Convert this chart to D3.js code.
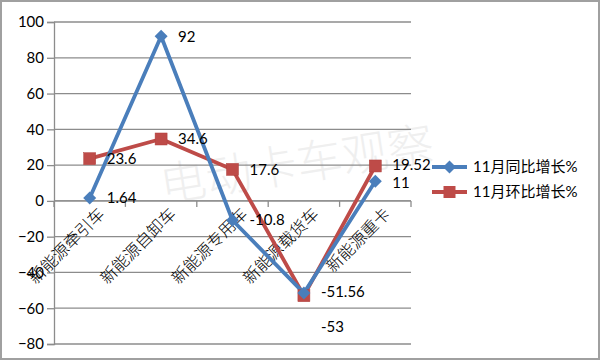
<!DOCTYPE html>
<html><head><meta charset="utf-8">
<script src="https://cdn.jsdelivr.net/npm/d3@7"></script>
<style>body{margin:0;background:#fff}svg{display:block}</style>
</head><body>
<svg id="c" width="600" height="360"></svg>
<script>
const categories = ["新能源牵引车","新能源自卸车","新能源专用车","新能源载货车","新能源重卡"];
const yoyValues = [1.64, 92, -10.8, -51.56, 11];
const momValues = [23.6, 34.6, 17.6, -53, 19.52];
const seriesNames = ["11月同比增长%","11月环比增长%"];
const yTicks = [100,80,60,40,20,0,-20,-40,-60,-80];
const watermark = "电动卡车观察";

const svg = d3.select("#c");
const W=600,H=360;
const numFont = "Lato, 'Noto Sans CJK SC', sans-serif";
const cjkFont = "'Noto Sans CJK SC', sans-serif";
const blue="#4a7ebb", red="#be4b48";

svg.append("rect").attr("x",1).attr("y",1).attr("width",W-2).attr("height",H-2)
  .attr("fill","#fff").attr("stroke","#a0a0a0").attr("stroke-width",2);

const x = d3.scaleBand().domain(categories).range([54,411]).padding(0);
const y = d3.scaleLinear().domain([-80,100]).range([344,22]);

// watermark
svg.append("text").text(watermark)
  .attr("transform","translate(163,202) rotate(-9)")
  .attr("font-family",cjkFont).attr("font-size",46).attr("font-weight",300)
  .attr("fill","#efefef");

// gridlines
svg.append("g").selectAll("line").data(yTicks).join("line")
  .attr("x1",54).attr("x2",411).attr("y1",d=>y(d)).attr("y2",d=>y(d))
  .attr("stroke","#8c8c8c").attr("stroke-width",1.3);

// y axis
const yAxis = d3.axisLeft(y).tickValues(yTicks).tickSize(7).tickPadding(3).tickFormat(d3.format("d"));
const gy = svg.append("g").attr("transform","translate(54,0)").call(yAxis);
gy.select(".domain").attr("stroke","#8c8c8c").attr("stroke-width",1.3);
gy.selectAll(".tick line").attr("stroke","#8c8c8c").attr("stroke-width",1.3);
gy.selectAll(".tick text").attr("font-family",numFont).attr("font-size",15).attr("fill","#000");

// x axis at zero
const xTickPos = d3.range(categories.length+1).map(i=>54+i*x.bandwidth());
svg.append("line").attr("x1",54).attr("x2",411).attr("y1",y(0)).attr("y2",y(0))
  .attr("stroke","#8c8c8c").attr("stroke-width",1.3);
svg.append("g").selectAll("line").data(xTickPos).join("line")
  .attr("x1",d=>d).attr("x2",d=>d).attr("y1",y(0)).attr("y2",y(0)+6)
  .attr("stroke","#8c8c8c").attr("stroke-width",1.3);

// category labels
svg.append("g").selectAll("text").data(categories).join("text")
  .text(d=>d)
  .attr("transform",d=>`translate(${x(d)+x.bandwidth()/2+12},${y(0)+10}) rotate(-45)`)
  .attr("text-anchor","end").attr("dy","0.35em")
  .attr("font-family",cjkFont).attr("font-size",16.5).attr("font-weight",300).attr("fill","#000");

const cx = (d,i)=>x(categories[i])+x.bandwidth()/2;
const line = d3.line().x((d,i)=>cx(d,i)).y(d=>y(d));

// red series
svg.append("path").datum(momValues).attr("d",line).attr("fill","none")
  .attr("stroke",red).attr("stroke-width",3.8).attr("stroke-linejoin","round");
// blue series
svg.append("path").datum(yoyValues).attr("d",line).attr("fill","none")
  .attr("stroke",blue).attr("stroke-width",3.8).attr("stroke-linejoin","round");

const sq=12, dm=6.5;
svg.append("g").selectAll("rect").data(momValues).join("rect")
  .attr("x",(d,i)=>cx(d,i)-sq/2).attr("y",d=>y(d)-sq/2).attr("width",sq).attr("height",sq)
  .attr("fill",red).attr("stroke","#b0403d").attr("stroke-width",0.5);
svg.append("g").selectAll("path").data(yoyValues).join("path")
  .attr("d",(d,i)=>{const X=cx(d,i),Y=y(d);return `M${X},${Y-dm}L${X+dm},${Y}L${X},${Y+dm}L${X-dm},${Y}Z`;})
  .attr("fill",blue);

// data labels
function addLabels(vals, other){
  svg.append("g").selectAll("text").data(vals).join("text")
    .text(d=>String(d))
    .attr("x",(d,i)=>cx(d,i)+17)
    .attr("y",(d,i)=>{
      let yy=y(d);
      const gap=Math.abs(y(d)-y(other[i]));
      if(gap<10 && d<other[i]) yy+=31;
      else if(gap<18) yy += d<other[i] ? 1.5 : -1.5;
      return yy;
    })
    .attr("dy","0.35em")
    .attr("font-family",numFont).attr("font-size",15).attr("fill","#000");
}
addLabels(momValues, yoyValues);
addLabels(yoyValues, momValues);

// legend
const legend = [{name:seriesNames[0],color:blue,shape:"diamond",y:167},{name:seriesNames[1],color:red,shape:"square",y:192}];
const lg = svg.append("g").selectAll("g").data(legend).join("g");
lg.append("line").attr("x1",432).attr("x2",467).attr("y1",d=>d.y).attr("y2",d=>d.y)
  .attr("stroke",d=>d.color).attr("stroke-width",3.8);
lg.append("path").attr("d",d=>{
  const X=449.5,Y=d.y;
  return d.shape==="diamond"?`M${X},${Y-dm}L${X+dm},${Y}L${X},${Y+dm}L${X-dm},${Y}Z`
    :`M${X-sq/2},${Y-sq/2}h${sq}v${sq}h${-sq}Z`;
}).attr("fill",d=>d.color);
lg.append("text").text(d=>d.name).attr("x",473).attr("y",d=>d.y).attr("dy","0.35em")
  .attr("font-family",numFont).attr("font-size",15).attr("fill","#000");
</script>
</body></html>
